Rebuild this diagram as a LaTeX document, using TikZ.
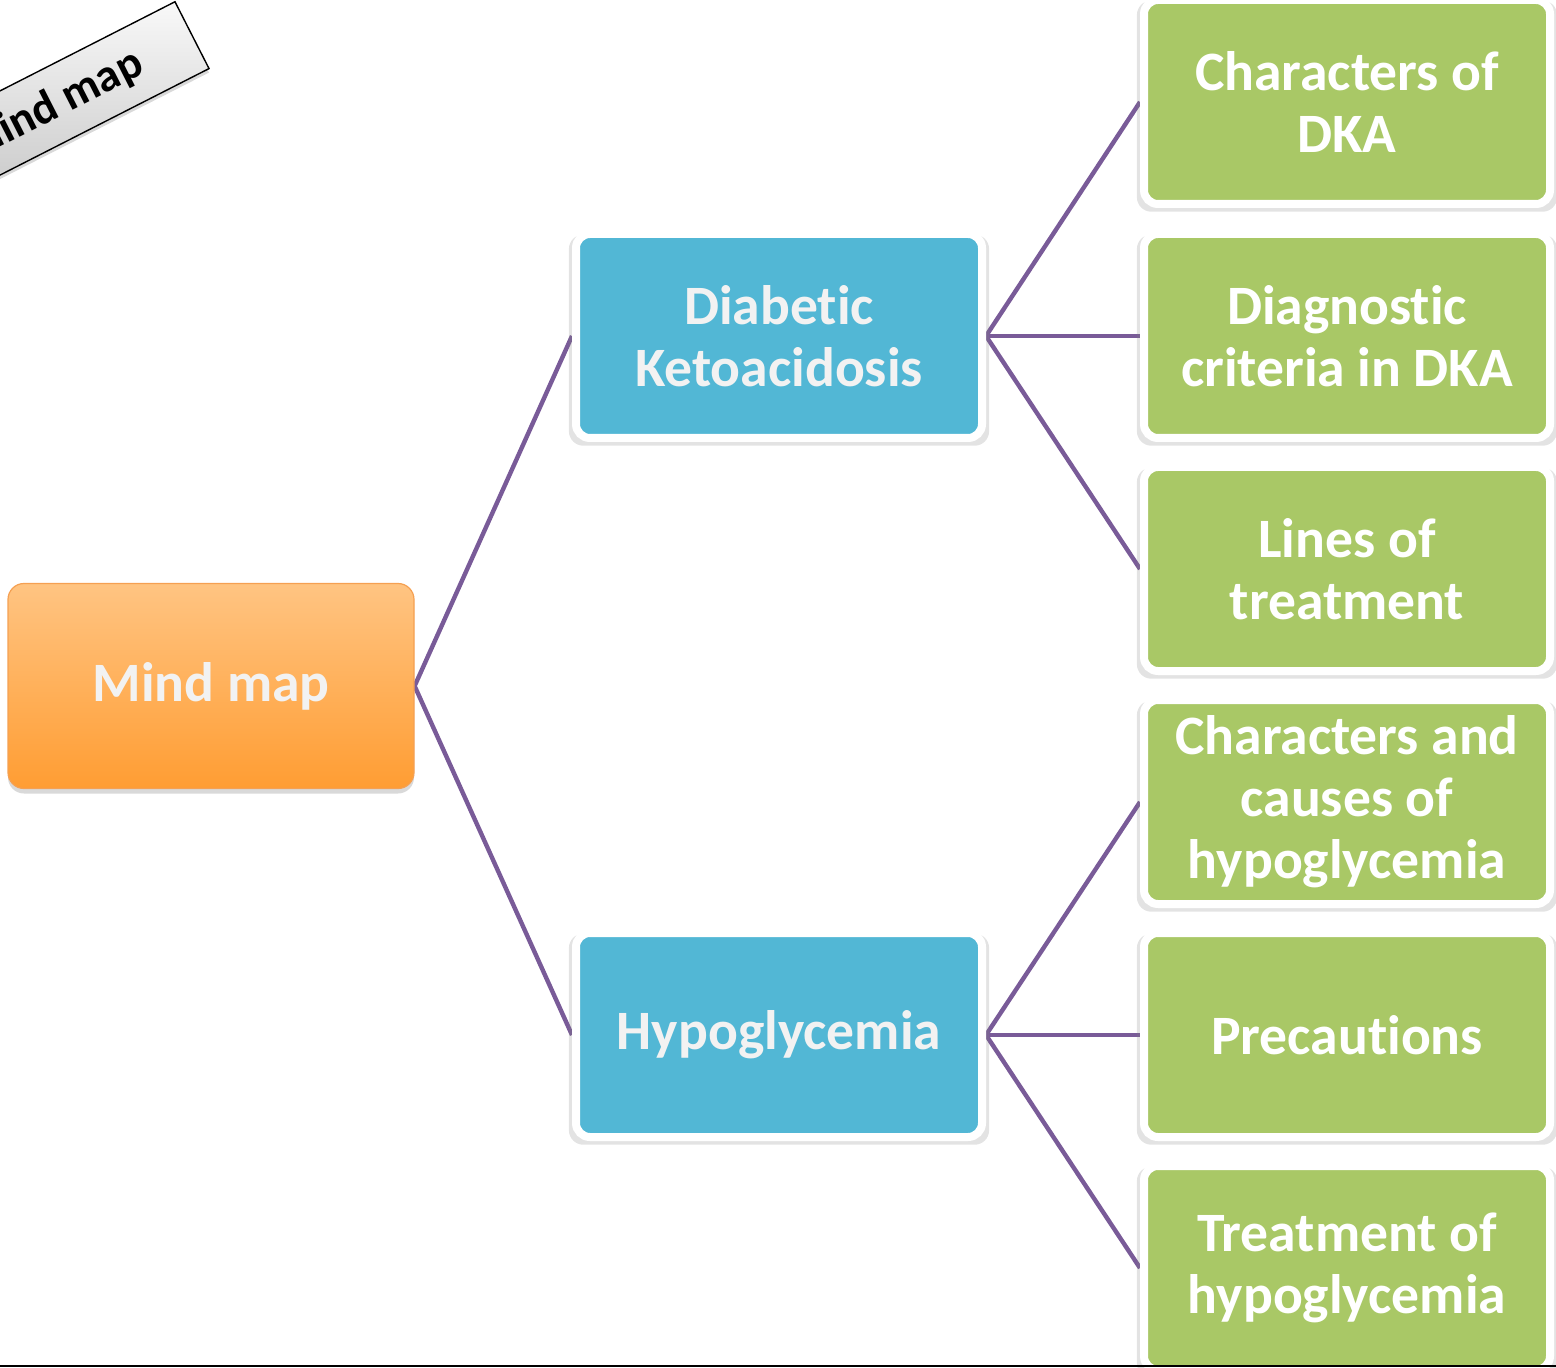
\documentclass[tikz,border=0pt]{standalone}
\usepackage{fontspec}
\setmainfont{Carlito}[Ligatures=NoCommon]
\usetikzlibrary{shadows,backgrounds}
\definecolor{topicblue}{HTML}{52B7D5}
\definecolor{leafgreen}{HTML}{A9C866}
\definecolor{linkpurple}{HTML}{795B98}
\definecolor{rootlight}{HTML}{FFC482}
\definecolor{rootdark}{HTML}{FF9D33}
\definecolor{rootedge}{HTML}{F5A052}
\definecolor{softwhite}{HTML}{F2F2F2}

\begin{document}
\begin{tikzpicture}[x=0.5pt,y=-0.5pt,
  boxfont/.style={font=\fontsize{27.8}{31}\selectfont\bfseries},
  mainbox/.style={boxfont,rectangle,rounded corners=8pt,minimum width=203pt,minimum height=102.5pt,
    top color=rootlight,bottom color=rootdark,draw=rootedge,line width=0.6pt,text=softwhite,
    drop shadow={shadow xshift=0pt,shadow yshift=-2.5pt,opacity=0.3}},
  topicbox/.style={boxfont,rectangle,rounded corners=7pt,minimum width=203pt,minimum height=102pt,
    fill=topicblue,draw=white,line width=4pt,text=softwhite,align=center,
    drop shadow={shadow scale=1.035,shadow xshift=0pt,shadow yshift=-2pt,opacity=0.22}},
  leafbox/.style={topicbox,fill=leafgreen,text=white},
  banner/.style={font=\fontsize{23}{27}\selectfont\bfseries,rectangle,minimum width=156pt,minimum height=37.5pt,
    top color=gray!5,bottom color=gray!45,draw=black,line width=0.7pt,
    drop shadow={shadow xshift=0pt,shadow yshift=-2pt,opacity=0.3}},
  branch/.style={draw=linkpurple,line width=2.2pt}]
\useasboundingbox (0,0) rectangle (1556,1368);
%%Banner
\node (banner) [banner,rotate=27] at (53,106) {Mind map};
%%Root
\node (root) [mainbox] at (211,686) {Mind map};
%%Topics
\node (dka) [topicbox] at (779,336) {Diabetic\\Ketoacidosis};
\node (hypo) [topicbox] at (779,1035) {Hypoglycemia};
%%Leaves
\node (dkachar) [leafbox] at (1347,102) {Characters of\\DKA};
\node (dkadiag) [leafbox] at (1347,336) {Diagnostic\\criteria in DKA};
\node (dkatreat) [leafbox] at (1347,569) {Lines of\\treatment};
\node (hypochar) [leafbox] at (1347,802) {Characters and\\causes of\\hypoglycemia};
\node (hypoprec) [leafbox] at (1347,1035) {Precautions};
\node (hypotreat) [leafbox] at (1347,1268) {Treatment of\\hypoglycemia};
%%Links
\begin{scope}[on background layer]
\draw[branch] (root.east) -- (dka.west);
\draw[branch] (root.east) -- (hypo.west);
\draw[branch] (dka.east) -- (dkachar.west);
\draw[branch] (dka.east) -- (dkadiag.west);
\draw[branch] (dka.east) -- (dkatreat.west);
\draw[branch] (hypo.east) -- (hypochar.west);
\draw[branch] (hypo.east) -- (hypoprec.west);
\draw[branch] (hypo.east) -- (hypotreat.west);
\end{scope}
%%Frame
\coordinate (frameleft) at (0,1366);
\coordinate (frameright) at (1556,1366);
\draw[line width=0.8pt] (frameleft) -- (frameright);
\end{tikzpicture}
\end{document}
